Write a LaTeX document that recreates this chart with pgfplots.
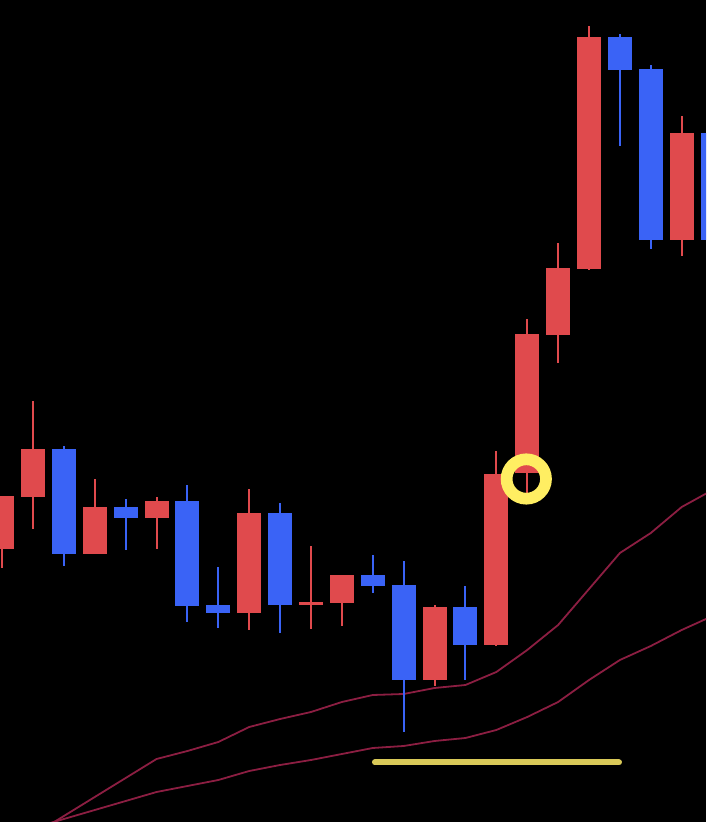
\documentclass[border=0pt]{standalone}
\usepackage{pgfplots}
\usepackage{pgfplotstable}
\pgfplotsset{compat=1.18}
\definecolor{cRed}{RGB}{224,74,77}
\definecolor{cBlue}{RGB}{58,99,246}
\definecolor{cMA}{RGB}{140,30,66}
\definecolor{cCircle}{RGB}{255,238,98}
\definecolor{cLine}{RGB}{217,201,88}
% k  body-low body-high  low  high
\pgfplotstableread{
k   blo    bhi    lo     hi
0   273.3  326    254.3  326
1   325.3  373    293.3  421
3   268.3  315    268.3  343
5   304.3  321    273.3  325
8   209.3  309    192.3  333
10  217    220    193.3  276
11  219.3  247    196.3  247
14  142.3  215    136.3  217
16  177.3  348.3  176.3  371
17  348.5  488    329    503
18  487.3  554    459.3  579
19  553.3  785    552    796
22  582.3  689    566.3  706
}\redtab
\pgfplotstableread{
k   blo    bhi    lo     hi
2   268.3  373    256.3  376
4   304.3  315    272.3  323
6   216.3  321    200.3  337
7   209.3  217    194.3  255
9   217.3  309    189.3  319
12  236.3  247    229.3  267
13  142.3  237    90.3   261
15  177.3  215    142.3  236
20  752.3  785    676.3  788
21  582.3  753    573    757
23  582.3  689    572    702
}\bluetab
\pgfplotstableread{
k  up   dn
1  -13  -6
2  6    3
3  25   12
4  44   21
5  63   30
6  71   36
7  80   42
8  95   51
9  103  57
10 110  62
11 120  68
12 127  74
13 128  76
14 134  81
15 137  84
16 150  92
17 172  105
18 197  120
19 233  142
20 269  162
21 289  176
22 315  192
23 332  206
}\matab
\begin{document}
\begin{tikzpicture}
\fill[black] (0,0) rectangle (353pt,411pt);
\begin{axis}[at={(0,0)}, anchor=south west, scale only axis,
  width=353pt, height=411pt,
  xmin=-0.068, xmax=22.787, ymin=0, ymax=822,
  hide axis, clip=true]
% moving averages
\addplot[cMA, line width=0.9pt, mark=none] table[x=k, y=up] {\matab};
\addplot[cMA, line width=0.9pt, mark=none] table[x=k, y=dn] {\matab};
% wicks
\addplot[draw=none, mark=none, error bars/.cd, y dir=plus, y explicit, error mark=none,
  error bar style={line width=1pt, draw=cRed}]
  table[x=k, y=lo, y error expr=\thisrow{hi}-\thisrow{lo}] {\redtab};
\addplot[draw=none, mark=none, error bars/.cd, y dir=plus, y explicit, error mark=none,
  error bar style={line width=1pt, draw=cBlue}]
  table[x=k, y=lo, y error expr=\thisrow{hi}-\thisrow{lo}] {\bluetab};
% bodies
\addplot[draw=none, mark=none, error bars/.cd, y dir=plus, y explicit, error mark=none,
  error bar style={line width=12pt, draw=cRed, line cap=butt}]
  table[x=k, y=blo, y error expr=\thisrow{bhi}-\thisrow{blo}] {\redtab};
\addplot[draw=none, mark=none, error bars/.cd, y dir=plus, y explicit, error mark=none,
  error bar style={line width=12pt, draw=cBlue, line cap=butt}]
  table[x=k, y=blo, y error expr=\thisrow{bhi}-\thisrow{blo}] {\bluetab};
% yellow horizontal line
\addplot[cLine, line width=3pt, line cap=round, mark=none] coordinates {(12.07,59.5) (19.97,59.5)};
% yellow ring
\addplot[only marks, mark=o, mark size=9.85pt, mark options={line width=5.85pt, draw=cCircle, fill=none}] coordinates {(16.97,343)};
\end{axis}
\pgfresetboundingbox
\path (0,0) rectangle (353pt,411pt);
\end{tikzpicture}
\end{document}
